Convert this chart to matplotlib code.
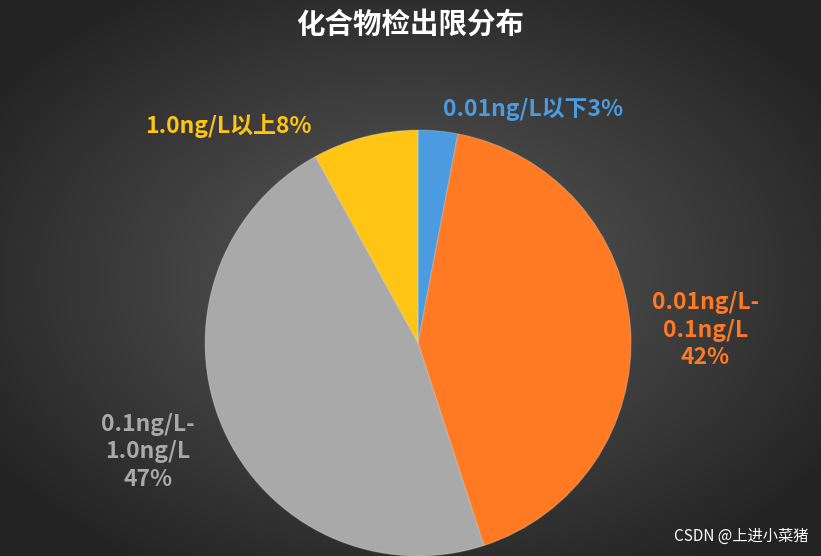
import numpy as np
import matplotlib
matplotlib.use("Agg")
import matplotlib.pyplot as plt

plt.rcParams['font.family'] = ['Noto Sans CJK SC', 'DejaVu Sans']

categories = ["0.01ng/L以下", "0.01ng/L-\n0.1ng/L", "0.1ng/L-\n1.0ng/L", "1.0ng/L以上"]
values = [3, 42, 47, 8]
colors = ["#4a9be0", "#ff7a22", "#a9a9a9", "#ffc515"]
label_pos = [(0.54, 1.10), (1.35, 0.06), (-1.27, -0.51), (-0.89, 1.02)]
label_sep = ["", "\n", "\n", ""]

fig = plt.figure(figsize=(8.21, 5.56), dpi=100)
bg = fig.add_axes([0, 0, 1, 1])
yy, xx = np.mgrid[-1:1:300j, -1:1:400j]
r = np.sqrt(xx ** 2 + yy ** 2)
g = np.clip(0.36 - 0.18 * r, 0.14, 0.36)
bg.imshow(np.dstack([g, g, g]), extent=[0, 1, 0, 1], aspect='auto')
bg.axis('off')

ax = fig.add_axes([0.2497, 0.0, 0.519, 0.766])
ax.pie(values, colors=colors, startangle=90, counterclock=False,
       wedgeprops=dict(edgecolor=(1, 1, 1, 0.25), linewidth=0.8))
ax.set_xlim(-1, 1); ax.set_ylim(-1, 1)
ax.set_aspect('equal')
ax.axis('off')
for cat, v, c, (x, y), sep in zip(categories, values, colors, label_pos, label_sep):
    ax.text(x, y, f"{cat}{sep}{v}%", color=c, fontsize=16.5, fontweight='bold',
            ha='center', va='center', linespacing=1.25, clip_on=False)

fig.text(0.5, 0.955, "化合物检出限分布", color='white', fontsize=20.5,
         fontweight='bold', ha='center', va='center')
fig.text(0.985, 0.035, "CSDN @上进小菜猪", color='white', fontsize=11,
         ha='right', va='center')
fig.savefig("out.png", dpi=100)
